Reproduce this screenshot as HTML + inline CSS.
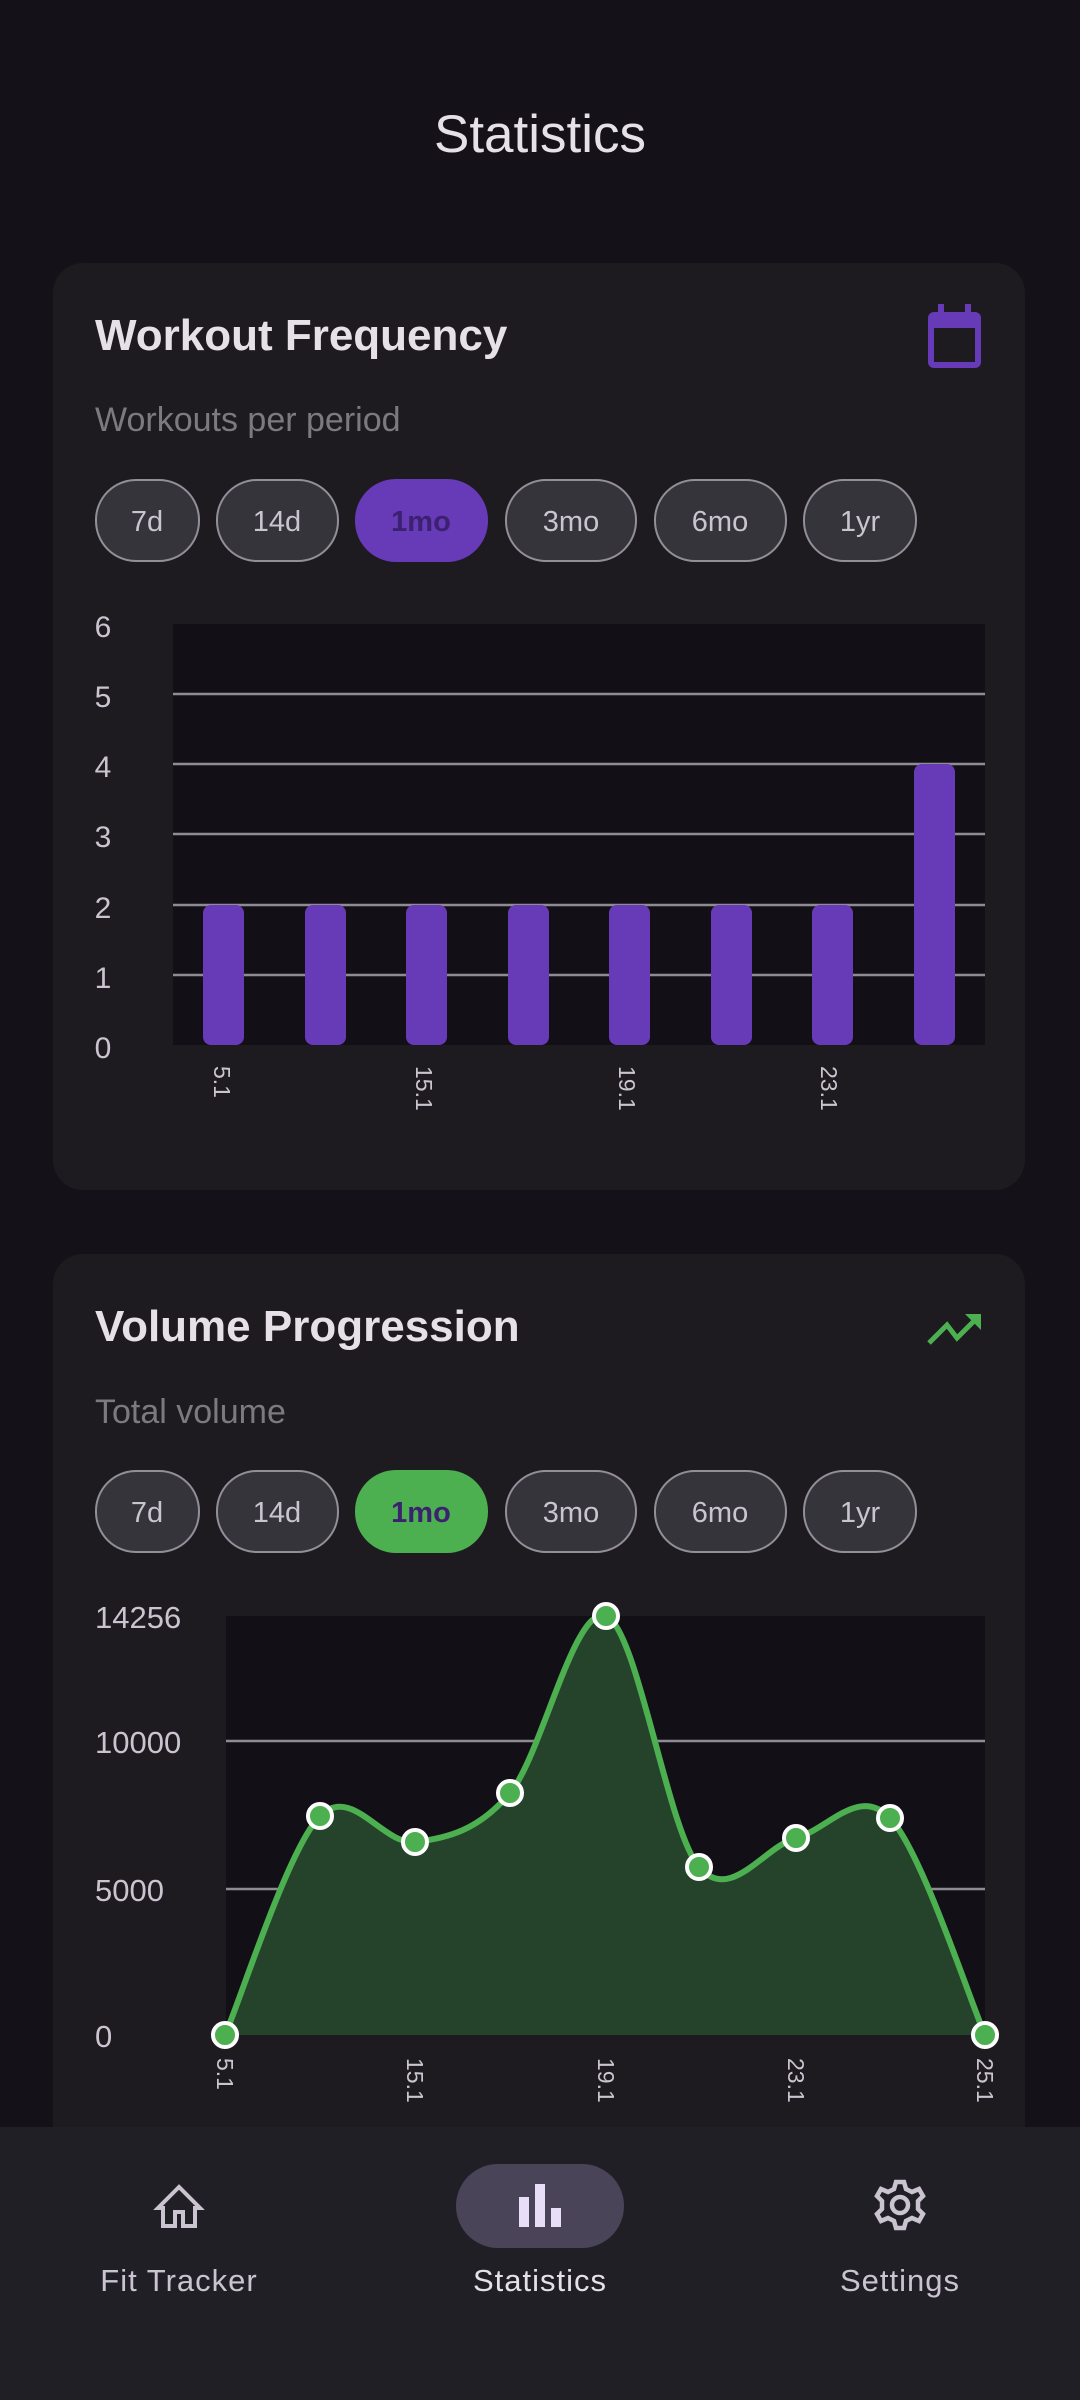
<!DOCTYPE html>
<html><head><meta charset="utf-8"><style>
*{margin:0;padding:0;box-sizing:border-box}
body{width:1080px;height:2400px;background:#141218;font-family:"Liberation Sans",sans-serif;overflow:hidden;position:relative}
svg{position:absolute;left:0;top:0}
</style></head><body>
<svg width="1080" height="2400" viewBox="0 0 1080 2400" font-family="Liberation Sans, sans-serif">
<text x="540" y="152" font-size="53" fill="#e6e0e9" text-anchor="middle">Statistics</text>

<!-- Card 1 -->
<rect x="53" y="263" width="972" height="927" rx="30" fill="#1d1b20"/>
<text x="95" y="350" font-size="44" font-weight="bold" fill="#e6e0e9">Workout Frequency</text>
<g fill="#673ab7"><rect x="928" y="312" width="53" height="56" rx="6"/><rect x="938" y="304" width="6" height="10"/><rect x="965" y="304" width="6" height="10"/></g>
<rect x="934" y="328" width="41" height="34" fill="#1d1b20"/>
<text x="95" y="431" font-size="34" fill="#7c7a80">Workouts per period</text>
<g font-size="29" text-anchor="middle" fill="#cac4d0">
<rect x="96" y="480" width="103" height="81" rx="40" fill="#36343b" stroke="#938f99" stroke-width="2"/><text x="147" y="531">7d</text>
<rect x="217" y="480" width="121" height="81" rx="40" fill="#36343b" stroke="#938f99" stroke-width="2"/><text x="277" y="531">14d</text>
<rect x="355" y="479" width="133" height="83" rx="41" fill="#673ab7"/><text x="421" y="531" fill="#3b2170" font-weight="bold">1mo</text>
<rect x="506" y="480" width="130" height="81" rx="40" fill="#36343b" stroke="#938f99" stroke-width="2"/><text x="571" y="531">3mo</text>
<rect x="655" y="480" width="131" height="81" rx="40" fill="#36343b" stroke="#938f99" stroke-width="2"/><text x="720" y="531">6mo</text>
<rect x="804" y="480" width="112" height="81" rx="40" fill="#36343b" stroke="#938f99" stroke-width="2"/><text x="860" y="531">1yr</text>
</g>
<rect x="173" y="624" width="812" height="421" fill="#121016"/>
<g stroke="#8f8b94" stroke-width="2.5">
<line x1="173" x2="985" y1="694" y2="694"/><line x1="173" x2="985" y1="764" y2="764"/><line x1="173" x2="985" y1="834" y2="834"/><line x1="173" x2="985" y1="905" y2="905"/><line x1="173" x2="985" y1="975" y2="975"/>
</g>
<g font-size="30" fill="#cac4d0" text-anchor="middle">
<text x="103" y="637">6</text><text x="103" y="707">5</text><text x="103" y="777">4</text><text x="103" y="847">3</text><text x="103" y="918">2</text><text x="103" y="988">1</text><text x="103" y="1058">0</text>
</g>
<g fill="#673ab7">
<rect x="203" y="905" width="41" height="140" rx="8"/><rect x="305" y="905" width="41" height="140" rx="8"/><rect x="406" y="905" width="41" height="140" rx="8"/><rect x="508" y="905" width="41" height="140" rx="8"/><rect x="609" y="905" width="41" height="140" rx="8"/><rect x="711" y="905" width="41" height="140" rx="8"/><rect x="812" y="905" width="41" height="140" rx="8"/><rect x="914" y="764" width="41" height="281" rx="8"/>
</g>
<g font-size="23" fill="#cac4d0">
<text transform="translate(214,1066) rotate(90)">5.1</text>
<text transform="translate(416,1066) rotate(90)">15.1</text>
<text transform="translate(619,1066) rotate(90)">19.1</text>
<text transform="translate(821,1066) rotate(90)">23.1</text>
</g>

<!-- Card 2 -->
<rect x="53" y="1254" width="972" height="1000" rx="30" fill="#1d1b20"/>
<text x="95" y="1341" font-size="44" font-weight="bold" fill="#e6e0e9">Volume Progression</text>
<polyline points="929,1343 947,1325 957,1338 975,1320" fill="none" stroke="#4caf50" stroke-width="5"/>
<polygon points="965,1314 981,1314 981,1330" fill="#4caf50"/>
<text x="95" y="1423" font-size="34" fill="#7c7a80">Total volume</text>
<g font-size="29" text-anchor="middle" fill="#cac4d0">
<rect x="96" y="1471" width="103" height="81" rx="40" fill="#36343b" stroke="#938f99" stroke-width="2"/><text x="147" y="1522">7d</text>
<rect x="217" y="1471" width="121" height="81" rx="40" fill="#36343b" stroke="#938f99" stroke-width="2"/><text x="277" y="1522">14d</text>
<rect x="355" y="1470" width="133" height="83" rx="41" fill="#4caf50"/><text x="421" y="1522" fill="#3b2170" font-weight="bold">1mo</text>
<rect x="506" y="1471" width="130" height="81" rx="40" fill="#36343b" stroke="#938f99" stroke-width="2"/><text x="571" y="1522">3mo</text>
<rect x="655" y="1471" width="131" height="81" rx="40" fill="#36343b" stroke="#938f99" stroke-width="2"/><text x="720" y="1522">6mo</text>
<rect x="804" y="1471" width="112" height="81" rx="40" fill="#36343b" stroke="#938f99" stroke-width="2"/><text x="860" y="1522">1yr</text>
</g>
<rect x="226" y="1616" width="759" height="419" fill="#121016"/>
<g stroke="#8f8b94" stroke-width="2.5"><line x1="226" x2="985" y1="1741" y2="1741"/><line x1="226" x2="985" y1="1889" y2="1889"/></g>
<g font-size="31" fill="#cac4d0">
<text x="95" y="1628">14256</text><text x="95" y="1753">10000</text><text x="95" y="1901">5000</text><text x="95" y="2047">0</text>
</g>
<path d="M225,2035 C241,1998.5 288.3,1848.2 320,1816 C351.7,1783.8 383.3,1845.8 415,1842 C446.7,1838.2 478.2,1830.7 510,1793 C541.8,1755.3 574.5,1603.7 606,1616 C637.5,1628.3 667.3,1830 699,1867 C730.7,1904 764.2,1846.2 796,1838 C827.8,1829.8 858.5,1785.2 890,1818 C921.5,1850.8 969.2,1998.8 985,2035 Z" fill="#25432a"/>
<path d="M225,2035 C241,1998.5 288.3,1848.2 320,1816 C351.7,1783.8 383.3,1845.8 415,1842 C446.7,1838.2 478.2,1830.7 510,1793 C541.8,1755.3 574.5,1603.7 606,1616 C637.5,1628.3 667.3,1830 699,1867 C730.7,1904 764.2,1846.2 796,1838 C827.8,1829.8 858.5,1785.2 890,1818 C921.5,1850.8 969.2,1998.8 985,2035" fill="none" stroke="#4caf50" stroke-width="6"/>
<g fill="#4caf50" stroke="#fff" stroke-width="4">
<circle cx="225" cy="2035" r="12"/><circle cx="320" cy="1816" r="12"/><circle cx="415" cy="1842" r="12"/><circle cx="510" cy="1793" r="12"/><circle cx="606" cy="1616" r="12"/><circle cx="699" cy="1867" r="12"/><circle cx="796" cy="1838" r="12"/><circle cx="890" cy="1818" r="12"/><circle cx="985" cy="2035" r="12"/>
</g>
<g font-size="23" fill="#cac4d0">
<text transform="translate(217,2058) rotate(90)">5.1</text>
<text transform="translate(407,2058) rotate(90)">15.1</text>
<text transform="translate(598,2058) rotate(90)">19.1</text>
<text transform="translate(788,2058) rotate(90)">23.1</text>
<text transform="translate(977,2058) rotate(90)">25.1</text>
</g>

<!-- Nav -->
<rect x="0" y="2127" width="1080" height="273" fill="#211f26"/>
<rect x="456" y="2164" width="168" height="84" rx="42" fill="#4a4458"/>
<g fill="#e8def8"><rect x="519" y="2197" width="10" height="30"/><rect x="535" y="2184" width="10" height="43"/><rect x="551" y="2208" width="10" height="19"/></g>
<path d="M179,2187 L158,2208 L163,2208 L163,2226 L175,2226 L175,2212 L183,2212 L183,2226 L195,2226 L195,2208 L200,2208 Z" fill="none" stroke="#cac4d0" stroke-width="4" stroke-linejoin="miter"/>
<g transform="translate(900,2205)" fill="none" stroke="#cac4d0" stroke-width="4.5">
<path d="M-4,-23 L4,-23 L6,-16 L12,-13 L19,-16 L23,-9 L18,-4 L18,4 L23,9 L19,16 L12,13 L6,16 L4,23 L-4,23 L-6,16 L-12,13 L-19,16 L-23,9 L-18,4 L-18,-4 L-23,-9 L-19,-16 L-12,-13 L-6,-16 Z"/>
<circle r="8"/>
</g>
<g font-size="31" text-anchor="middle" fill="#cac4d0" letter-spacing="1">
<text x="179" y="2291">Fit Tracker</text>
<text x="540" y="2291" fill="#e6e0e9">Statistics</text>
<text x="900" y="2291">Settings</text>
</g>
</svg>
</body></html>
